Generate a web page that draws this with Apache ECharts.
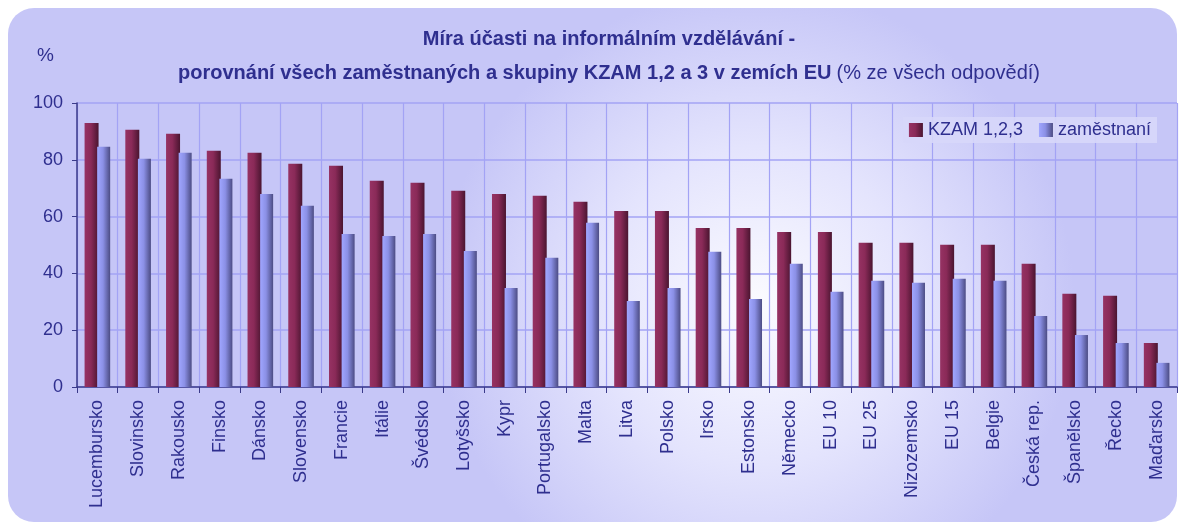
<!DOCTYPE html>
<html><head><meta charset="utf-8">
<script src="https://cdn.jsdelivr.net/npm/echarts@6/dist/echarts.min.js"></script>
<style>html,body{margin:0;padding:0;background:#fff}#c{width:1179px;height:525px}</style>
</head><body><div id="c"></div>
<script>
const categories = ['Lucembursko','Slovinsko','Rakousko','Finsko','Dánsko','Slovensko','Francie','Itálie','Švédsko','Lotyšsko','Kypr','Portugalsko','Malta','Litva','Polsko','Irsko','Estonsko','Německo','EU 10','EU 25','Nizozemsko','EU 15','Belgie','Česká rep.','Španělsko','Řecko','Maďarsko'];
const kzam = [93.0,90.6,89.2,83.2,82.5,78.6,77.9,72.6,71.9,69.1,68.0,67.3,65.2,62.0,62.0,56.0,56.0,54.6,54.6,50.8,50.8,50.1,50.1,43.4,32.8,32.1,15.5];
const zamestnani = [84.6,80.4,82.5,73.3,68.0,63.8,53.9,53.2,53.9,47.9,34.9,45.5,57.8,30.3,34.9,47.6,31.0,43.4,33.5,37.4,36.7,38.1,37.4,25.0,18.3,15.5,8.5];
const yTicks = [0,20,40,60,80,100];
const seriesNames = ['KZAM 1,2,3','zaměstnaní'];

const txt = '#2f2f8f';
const font = 'Liberation Sans, Arial, sans-serif';
const chart = echarts.init(document.getElementById('c'));
function grad(a,b,c){return new echarts.graphic.LinearGradient(0,0,1,0,[{offset:0,color:a},{offset:0.45,color:b},{offset:1,color:c}]);}
chart.setOption({
  animation:false,
  graphic:[{type:'rect',z:-10,shape:{x:8,y:8,width:1169,height:514,r:26},
    style:{fill:new echarts.graphic.RadialGradient(0.64,0.58,0.62,[{offset:0,color:'#fbfbff'},{offset:0.5,color:'#e4e4fd'},{offset:1,color:'#c6c6f7'}])}},
    {type:'text',left:37,top:46,style:{text:'%',font:'19px '+font,fill:txt}}],
  title:{left:604,top:17,textAlign:'center',
    text:'{b|Míra účasti na informálním vzdělávání -}\n{b|porovnání všech zaměstnaných a skupiny KZAM 1,2 a 3 v zemích EU} {n|(% ze všech odpovědí)}',
    textStyle:{fontWeight:'bold',rich:{b:{fontFamily:font,fontWeight:'bold',fontSize:20,color:txt,lineHeight:34},n:{fontFamily:font,fontWeight:'normal',fontSize:20,color:txt,lineHeight:34}}}},
  legend:{right:22,top:117,itemWidth:14,itemHeight:14,itemGap:16,icon:'rect',
    backgroundColor:'rgba(215,215,250,0.9)',padding:[4,6],
    textStyle:{fontFamily:font,fontSize:18,color:txt},data:seriesNames},
  grid:{left:77,right:2,top:103,bottom:138},
  xAxis:{type:'category',data:categories,
    axisLine:{lineStyle:{color:'#3a3a8a',width:1.5}},
    axisTick:{show:true,length:6,lineStyle:{color:'#3a3a8a'}},
    splitLine:{show:true,lineStyle:{color:'#a3a3f5',width:1.2}},
    axisLabel:{rotate:90,margin:13,fontFamily:font,fontSize:18,color:txt}},
  yAxis:{type:'value',min:0,max:100,interval:20,
    axisLine:{show:true,lineStyle:{color:'#3a3a8a',width:1.5}},
    axisTick:{show:true,length:5,inside:false,lineStyle:{color:'#3a3a8a'}},
    splitLine:{lineStyle:{color:'#a3a3f5',width:1.5}},
    axisLabel:{margin:14,fontFamily:font,fontSize:18,color:txt,formatter:v=>yTicks.includes(v)?String(v):''}},
  series:[
    {name:seriesNames[0],type:'bar',data:kzam,barWidth:14,barGap:'-10%',
     itemStyle:{color:grad('#963263','#8a2a58','#4a1530')}},
    {name:seriesNames[1],type:'bar',data:zamestnani,barWidth:13,
     itemStyle:{color:grad('#a0a6ff','#8b90e6','#4c4c84')}}
  ]
});
</script></body></html>
